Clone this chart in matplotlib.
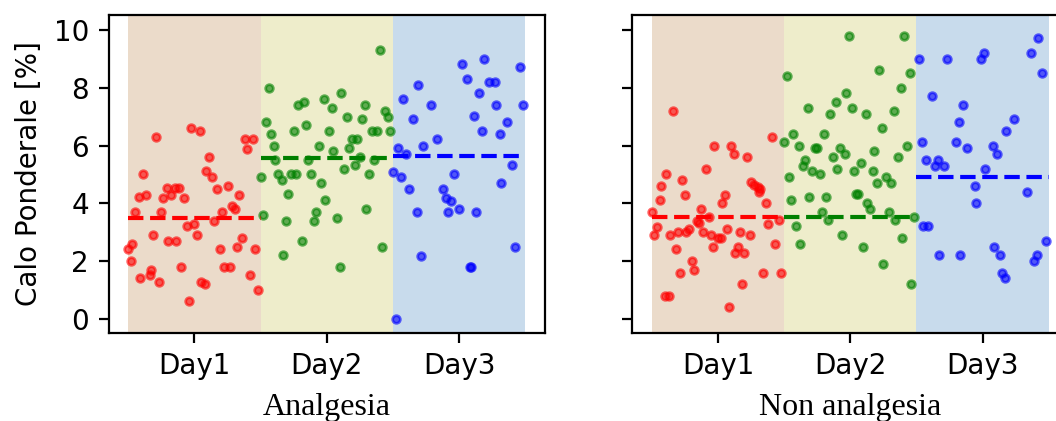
import matplotlib
matplotlib.use('Agg')
import matplotlib.pyplot as plt
import numpy as np

days = ['Day1', 'Day2', 'Day3']
panel_labels = ['Analgesia', 'Non analgesia']
y_label = 'Calo Ponderale [%]'

# ---- Analgesia ----
L1_y = [6.31, 6.61, 6.51, 6.22, 6.22, 5.89, 5.61, 5.01, 5.11, 4.90, 4.52, 4.52, 4.52, 4.21, 4.29, 4.20, 4.29, 4.20,
        4.51, 4.60, 4.30, 3.71, 3.71, 3.71, 3.91, 3.80, 3.21, 3.30, 3.40, 2.91, 2.91, 2.60, 2.41, 2.71, 2.71, 2.41,
        2.50, 2.81, 2.41, 2.00, 1.81, 1.81, 1.81, 1.71, 1.52, 1.41, 1.29, 1.29, 1.21, 1.51, 1.00, 0.62]
L1_x = [-0.29, -0.03, 0.04, 0.38, 0.44, 0.40, 0.11, -0.39, 0.09, 0.13, -0.21, -0.15, -0.12, -0.42, -0.37, -0.24,
        -0.18, -0.08, 0.17, 0.25, 0.34, -0.45, -0.25, 0.21, 0.28, 0.31, -0.06, 0.00, 0.15, 0.02, -0.31, -0.47, -0.50,
        -0.20, -0.14, 0.19, 0.32, 0.36, 0.46, -0.48, -0.10, 0.22, 0.27, -0.33, -0.34, -0.41, -0.27, 0.05, 0.08, 0.42,
        0.48, -0.04]
L2_y = [9.31, 8.00, 7.81, 7.40, 7.52, 7.60, 7.30, 7.40, 7.21, 7.00, 6.81, 7.00, 6.91, 6.40, 6.51, 6.70, 6.51, 6.51,
        6.51, 6.51, 6.00, 6.00, 6.22, 6.22, 5.91, 5.82, 5.50, 5.50, 5.62, 5.50, 4.91, 5.02, 4.81, 5.02, 5.02, 5.02,
        5.20, 5.32, 5.02, 4.71, 4.31, 4.12, 3.61, 3.40, 3.71, 3.40, 3.49, 3.81, 2.71, 2.50, 2.20, 1.80]
L2_x = [0.40, -0.44, 0.11, -0.22, -0.17, -0.02, 0.04, 0.29, 0.44, 0.46, -0.46, 0.15, 0.27, -0.42, -0.25, -0.16, 0.02,
        0.34, 0.38, 0.48, -0.40, -0.06, 0.19, 0.23, 0.17, 0.05, -0.39, -0.14, 0.25, 0.36, -0.50, -0.37, -0.34, -0.27,
        -0.23, -0.12, 0.13, 0.21, 0.32, -0.04, -0.29, -0.01, -0.48, -0.31, -0.08, -0.10, 0.08, 0.30, -0.19, 0.42,
        -0.33, 0.10]
L3_y = [9.00, 8.81, 8.71, 8.32, 8.21, 8.21, 8.10, 7.81, 7.60, 7.42, 7.42, 7.42, 7.01, 6.91, 6.81, 6.52, 6.40, 6.22,
        6.00, 5.93, 5.71, 5.32, 5.10, 4.91, 5.01, 4.71, 4.51, 4.51, 4.20, 4.09, 3.81, 3.70, 3.70, 3.70, 2.50, 2.19,
        1.80, 1.80, 0.00]
L3_x = [0.19, 0.02, 0.46, 0.06, 0.23, 0.27, -0.31, 0.15, -0.42, -0.21, 0.28, 0.48, 0.11, -0.35, 0.36, 0.17, 0.31,
        -0.17, -0.27, -0.46, -0.40, 0.40, -0.50, -0.44, -0.04, 0.32, -0.38, -0.12, -0.10, -0.06, 0.00, -0.32, -0.08,
        0.13, 0.42, -0.29, 0.08, 0.09, -0.48]
L_lines = [3.48, 5.58, 5.64]

# ---- Non analgesia ----
R1_y = [7.20, 6.00, 6.00, 5.71, 5.61, 6.30, 5.19, 5.02, 4.81, 4.60, 4.73, 4.64, 4.56, 4.50, 4.38, 4.30, 4.30, 4.12,
        4.00, 4.00, 3.71, 3.81, 3.52, 3.39, 3.31, 3.12, 3.00, 3.00, 2.91, 3.17, 2.89, 3.00, 2.91, 2.81, 2.81, 3.11,
        3.01, 2.91, 3.30, 3.41, 2.41, 2.50, 2.50, 2.30, 2.30, 2.60, 2.01, 1.70, 1.60, 1.60, 1.60, 1.22, 0.81, 0.81,
        0.40]
R1_x = [-0.34, -0.03, 0.10, 0.12, 0.22, 0.41, -0.09, -0.39, -0.27, -0.43, 0.25, 0.27, 0.30, 0.32, 0.31, -0.25, 0.05,
        -0.44, 0.03, 0.36, -0.50, -0.13, -0.07, -0.16, -0.14, -0.22, -0.24, -0.30, -0.36, -0.46, -0.48, -0.11, -0.05,
        0.00, 0.02, 0.07, 0.17, 0.24, 0.38, 0.46, -0.32, -0.04, 0.15, 0.13, 0.20, 0.43, -0.20, -0.18, -0.29, 0.34,
        0.48, 0.18, -0.40, -0.37, 0.08]
R2_y = [9.80, 9.80, 8.41, 8.60, 8.50, 8.00, 7.81, 7.51, 7.30, 7.10, 7.30, 7.10, 7.21, 6.61, 6.41, 6.40, 6.11, 6.00,
        5.91, 5.91, 5.91, 5.71, 5.61, 5.80, 6.00, 5.61, 5.50, 5.30, 5.11, 5.01, 5.20, 5.11, 5.41, 5.11, 4.91, 4.71,
        4.91, 4.71, 4.11, 4.21, 4.21, 4.31, 4.31, 4.01, 3.81, 3.71, 3.41, 3.71, 3.41, 3.52, 3.21, 2.61, 2.91, 2.50,
        2.80, 1.91, 1.20]
R2_x = [-0.01, 0.41, -0.48, 0.22, 0.45, 0.38, -0.03, -0.11, -0.32, -0.15, 0.01, 0.12, 0.33, 0.24, -0.43, -0.20, -0.50,
        -0.39, -0.27, -0.25, -0.08, -0.04, -0.13, 0.18, 0.43, 0.36, -0.34, -0.36, -0.29, -0.23, -0.10, 0.03, 0.08,
        0.17, -0.46, 0.20, 0.27, 0.31, -0.45, -0.31, -0.18, 0.04, 0.06, 0.13, 0.15, -0.21, -0.17, 0.29, 0.34, 0.48,
        -0.41, -0.38, -0.06, 0.10, 0.39, 0.25, 0.46]
R3_y = [9.71, 9.22, 9.00, 9.22, 9.00, 9.00, 8.50, 7.71, 7.40, 6.81, 6.91, 6.51, 6.11, 6.11, 5.91, 6.00, 5.71, 5.50,
        5.51, 5.30, 5.30, 5.20, 4.61, 4.41, 4.01, 3.21, 3.21, 2.71, 2.50, 2.20, 2.20, 2.20, 2.20, 2.01, 1.60, 1.41]
R3_x = [0.42, 0.01, -0.01, 0.37, -0.48, -0.27, 0.45, -0.38, -0.15, -0.18, 0.24, 0.18, -0.46, -0.20, -0.12, 0.08, 0.11,
        -0.43, -0.34, -0.36, -0.29, 0.02, -0.06, 0.34, -0.05, -0.45, -0.41, 0.48, 0.09, 0.13, -0.33, -0.17, 0.41, 0.39,
        0.15, 0.17]
R_lines = [3.54, 3.54, 4.92]

point_colors = ['red', 'green', 'blue']
band_colors = ['#ebdbca', '#eeedcb', '#c8dbec']

fig = plt.figure(figsize=(5.28, 2.105), dpi=200)
W, H = 1056.0, 421.0
ax1 = fig.add_axes([108.5 / W, 1 - 333 / H, 436.5 / W, 318 / H])
ax2 = fig.add_axes([632 / W, 1 - 333 / H, 436.5 / W, 318 / H])

panels = [
    (ax1, [(L1_x, L1_y), (L2_x, L2_y), (L3_x, L3_y)], L_lines, panel_labels[0]),
    (ax2, [(R1_x, R1_y), (R2_x, R2_y), (R3_x, R3_y)], R_lines, panel_labels[1]),
]

for ax, groups, lines, lab in panels:
    for i, (gx, gy) in enumerate(groups):
        ax.axvspan(i - 0.5, i + 0.5, color=band_colors[i], lw=0, zorder=0)
        ax.scatter(i + np.array(gx), gy, s=7.5, color=point_colors[i], alpha=0.6,
                   linewidths=1.0, zorder=2)
        ax.plot([i - 0.5, i + 0.5], [lines[i], lines[i]], '--', color=point_colors[i],
                lw=1.5, zorder=3)
    ax.set_xlim(-0.65, 2.65)
    ax.set_ylim(-0.484, 10.52)
    ax.set_xticks(range(len(days)))
    ax.set_xticklabels(days)
    ax.set_yticks([0, 2, 4, 6, 8, 10])
    ax.set_xlabel(lab, family='Liberation Serif', fontsize=11.5, labelpad=4.5)

ax1.set_ylabel(y_label)
ax2.set_yticklabels([])

fig.savefig('out.png', dpi=200)
